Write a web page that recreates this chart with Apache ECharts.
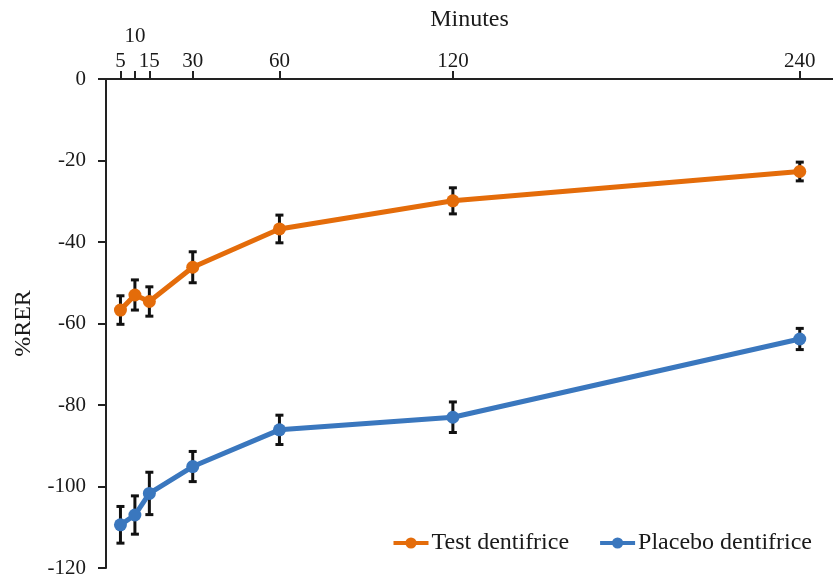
<!DOCTYPE html>
<html><head><meta charset="utf-8">
<script src="https://cdn.jsdelivr.net/npm/echarts@6/dist/echarts.min.js"></script>
<style>html,body{margin:0;padding:0;background:#fff}#c{width:833px;height:577px}</style>
</head><body><div id="c"></div>
<script>
const minutes = [5, 10, 15, 30, 60, 120, 240];
const testMean = [-56.7, -53.0, -54.6, -46.2, -36.8, -29.9, -22.7];
const testErr = [3.5, 3.7, 3.6, 3.8, 3.4, 3.2, 2.3];
const placeboMean = [-109.4, -107.0, -101.7, -95.1, -86.1, -83.0, -63.8];
const placeboErr = [4.5, 4.7, 5.2, 3.7, 3.6, 3.75, 2.6];
const yTicks = [0, -20, -40, -60, -80, -100, -120];
const seriesNames = ['Test dentifrice', 'Placebo dentifrice'];

const FONT = '"Liberation Serif","DejaVu Serif",serif';
const ORANGE = '#E46C0A';
const BLUE = '#3A77BE';
const TXT = '#1a1a1a';

function errData(mean, err) {
  return minutes.map((m, i) => [m, mean[i] - err[i], mean[i] + err[i]]);
}
function renderErr(params, api) {
  const x = api.value(0);
  const lo = api.coord([x, api.value(1)]);
  const hi = api.coord([x, api.value(2)]);
  const cw = 4;
  const style = { stroke: '#111', lineWidth: 3 };
  return {
    type: 'group',
    children: [
      { type: 'line', shape: { x1: lo[0], y1: lo[1], x2: hi[0], y2: hi[1] }, style },
      { type: 'line', shape: { x1: lo[0] - cw, y1: lo[1], x2: lo[0] + cw, y2: lo[1] }, style },
      { type: 'line', shape: { x1: hi[0] - cw, y1: hi[1], x2: hi[0] + cw, y2: hi[1] }, style }
    ]
  };
}

const chart = echarts.init(document.getElementById('c'));
chart.setOption({
  animation: false,
  textStyle: { fontFamily: FONT },
  grid: { left: 106, top: 79, right: 0, bottom: 9, containLabel: false, outerBoundsMode: 'none' },
  xAxis: {
    type: 'value', position: 'top', min: 0, max: 251.5,
    name: 'Minutes', nameLocation: 'middle', nameGap: 47, nameMoveOverlap: false,
    nameTextStyle: { fontFamily: FONT, fontSize: 24, color: TXT },
    axisLine: { onZero: false, lineStyle: { color: '#222', width: 2 } },
    axisTick: { show: true, length: 8, lineStyle: { color: '#222', width: 2 }, customValues: minutes },
    axisLabel: {
      customValues: minutes, fontFamily: FONT, fontSize: 21, color: TXT, margin: 7,
      formatter: v => v === 10 ? '{up|10}' : String(v),
      rich: { up: { fontFamily: FONT, fontSize: 21, color: TXT, padding: [0, 0, 25, 0] } }
    },
    splitLine: { show: false }
  },
  yAxis: {
    type: 'value', min: -120, max: 0, interval: 20,
    name: '%RER', nameLocation: 'middle', nameGap: 70, nameRotate: 90, nameMoveOverlap: false,
    nameTextStyle: { fontFamily: FONT, fontSize: 24, color: TXT },
    axisLine: { show: true, lineStyle: { color: '#222', width: 2 } },
    axisTick: { show: true, length: 8, lineStyle: { color: '#222', width: 2 }, customValues: yTicks },
    axisLabel: { fontFamily: FONT, fontSize: 21, color: TXT, margin: 20 },
    splitLine: { show: false }
  },
  legend: {
    right: 16, top: 526, itemGap: 29, itemWidth: 35, itemHeight: 14,
    lineStyle: { width: 4 },
    textStyle: { fontFamily: FONT, fontSize: 24, color: TXT, padding: [0, 0, 0, -2] },
    data: seriesNames
  },
  series: [
    { type: 'custom', name: 'testErr', renderItem: renderErr, data: errData(testMean, testErr), z: 1, silent: true },
    { type: 'custom', name: 'placeboErr', renderItem: renderErr, data: errData(placeboMean, placeboErr), z: 1, silent: true },
    {
      type: 'line', name: seriesNames[0], z: 3,
      data: minutes.map((m, i) => [m, testMean[i]]),
      symbol: 'circle', symbolSize: 13,
      lineStyle: { color: ORANGE, width: 5 }, itemStyle: { color: ORANGE }
    },
    {
      type: 'line', name: seriesNames[1], z: 3,
      data: minutes.map((m, i) => [m, placeboMean[i]]),
      symbol: 'circle', symbolSize: 13,
      lineStyle: { color: BLUE, width: 5 }, itemStyle: { color: BLUE }
    }
  ]
});
</script></body></html>
